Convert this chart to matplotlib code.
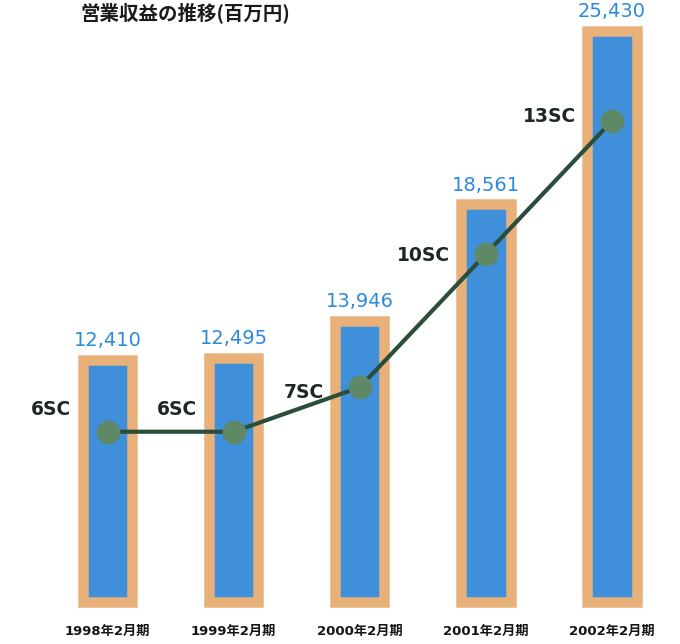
#!/usr/bin/env python
# coding=utf-8

import numpy as np
import matplotlib
matplotlib.use("Agg")
import matplotlib.pyplot as plt

plt.rcParams['font.family'] = ['Noto Sans CJK JP', 'DejaVu Sans']

# data
periods = ["1998年2月期", "1999年2月期", "2000年2月期", "2001年2月期", "2002年2月期"]
revenue = [12410, 12495, 13946, 18561, 25430]   # 百万円
sc_count = [6, 6, 7, 10, 13]                     # shopping centres
title = "営業収益の推移(百万円)"

# colours
ORANGE = "#E8B17A"
BLUE = "#3F8FDB"
LABEL_BLUE = "#2C89DE"
LINE = "#2A4E39"
MARK = "#5E8866"

x = np.arange(len(periods))

fig = plt.figure(figsize=(6.8, 6.44), dpi=100)
ax = fig.add_axes([0, 0, 1, 1])
ax.set_xlim(-0.8525, 4.540)
ax.set_ylim(1195, 26639)
ax.axis("off")

# blue bars with a thick tan frame
base = 2874
edge_px = 10.5
ax.bar(x, np.array(revenue) - base, bottom=base, width=0.3925,
       color=BLUE, edgecolor=ORANGE, linewidth=edge_px * 72 / 100,
       joinstyle="miter", zorder=2)

for xi, v in zip(x, revenue):
    ax.annotate("{:,}".format(v), (xi, v), xytext=(0, 10), textcoords="offset points",
                ha="center", va="baseline", fontsize=14, color=LABEL_BLUE,
                family=["DejaVu Sans"])

for xi, p in zip(x, periods):
    ax.text(xi, 0.0202, p, transform=ax.get_xaxis_transform(), ha="center",
            va="center", fontsize=9.5, fontweight="bold", color="#151515",
            family=["DejaVu Sans", "Noto Sans CJK JP"])

# store count line on its own scale
ax2 = ax.twinx()
ax2.set_ylim(1.218, 15.726)
ax2.axis("off")
ax2.plot(x, sc_count, color=LINE, linewidth=3, marker="o", markersize=16,
         markerfacecolor=MARK, markeredgecolor=MARK, zorder=3)

sc_dy = [16, 16, -3.5, -1.3, 3.6]
for xi, s, dy in zip(x, sc_count, sc_dy):
    ax2.annotate("{}SC".format(s), (xi, s), xytext=(-26, dy), textcoords="offset points",
                 ha="right", va="center", fontsize=13.5, fontweight="bold",
                 color="#1E2823", family=["DejaVu Sans"])

fig.text(0.118, 1 - 2.0 / 644, title, ha="left", va="top", fontsize=14,
         fontweight="bold", color="#1A1A1A")

fig.savefig("out.png", dpi=100)
